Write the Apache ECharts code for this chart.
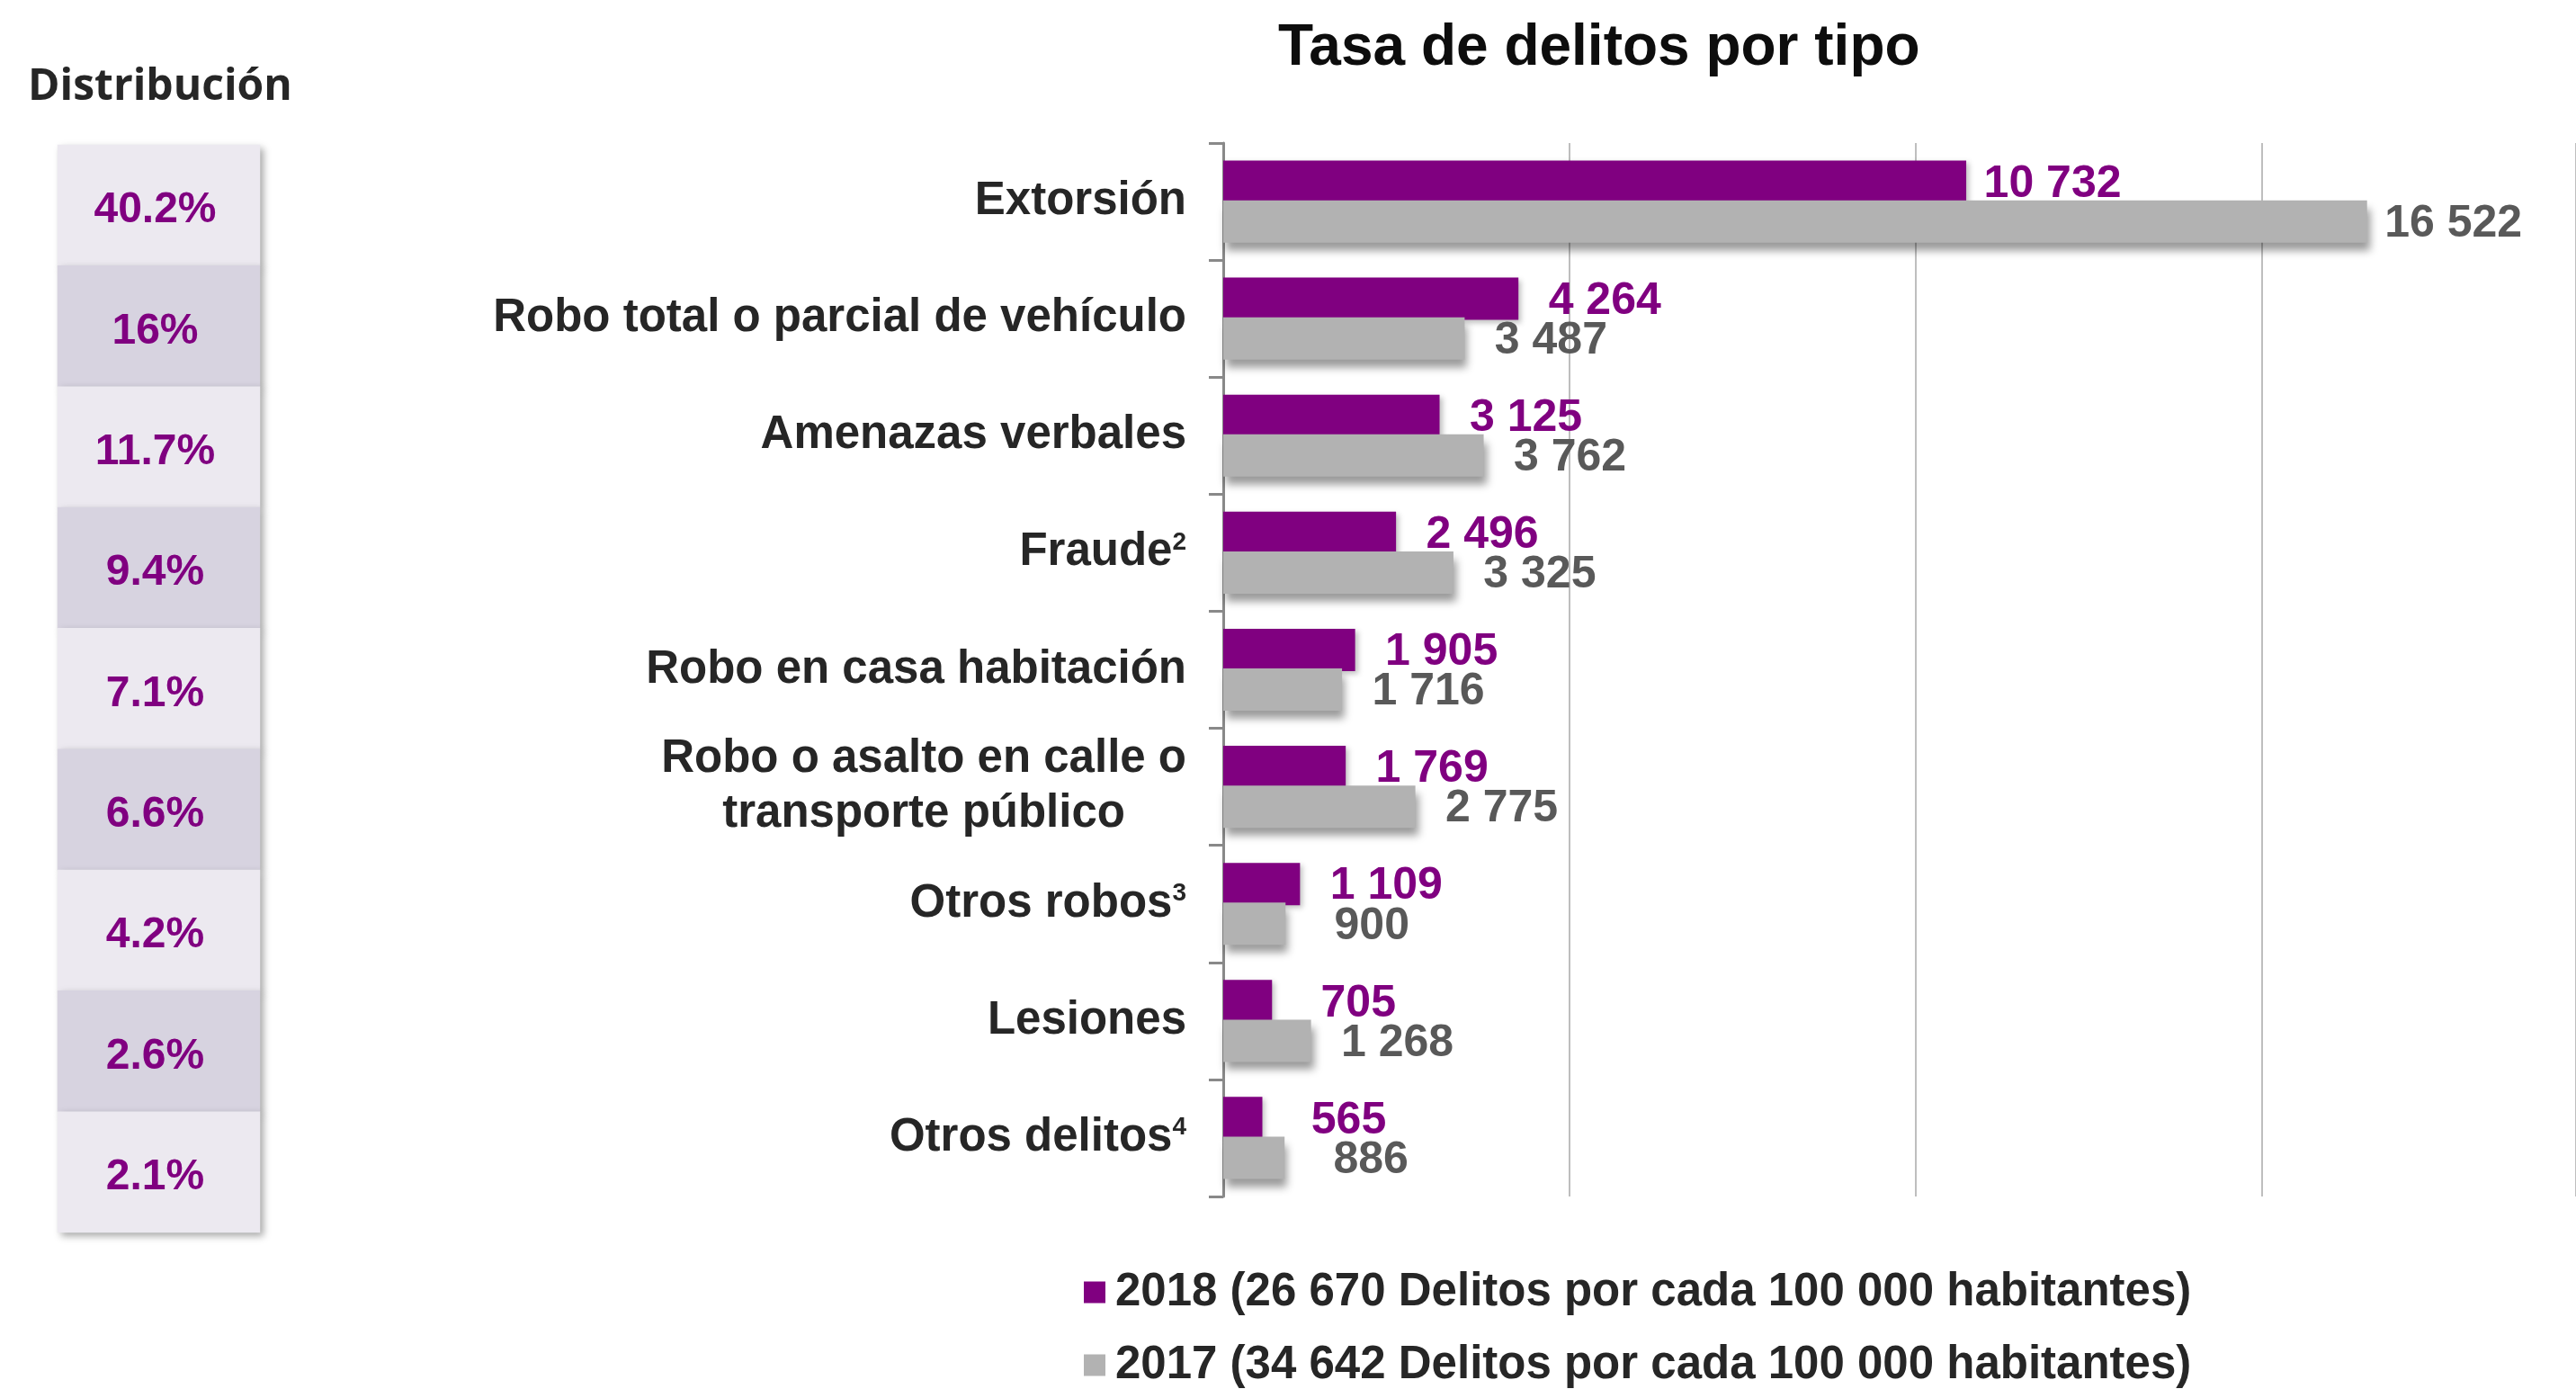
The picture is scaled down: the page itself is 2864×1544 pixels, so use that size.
<!DOCTYPE html>
<html>
<head>
<meta charset="utf-8">
<script src="https://cdn.jsdelivr.net/npm/echarts@6/dist/echarts.min.js"></script>
<style>
html,body{margin:0;padding:0;background:#fff;}
#c{width:2864px;height:1544px;}
</style>
</head>
<body>
<div id="c"></div>
<script>
// ---- data ----
var categories = ['Extorsión', 'Robo total o parcial de vehículo', 'Amenazas verbales', 'Fraude²',
  'Robo en casa habitación', 'Robo o asalto en calle o\ntransporte público', 'Otros robos³', 'Lesiones', 'Otros delitos⁴'];
var values2018 = [10732, 4264, 3125, 2496, 1905, 1769, 1109, 705, 565];
var values2017 = [16522, 3487, 3762, 3325, 1716, 2775, 900, 1268, 886];
var distribution = [40.2, 16, 11.7, 9.4, 7.1, 6.6, 4.2, 2.6, 2.1];
var seriesNames = ['2018 (26 670 Delitos por cada 100 000 habitantes)', '2017 (34 642 Delitos por cada 100 000 habitantes)'];
var titleText = 'Tasa de delitos por tipo';
var distTitle = 'Distribución';
var xTicks = {min: 0, max: 19540, interval: 5000};

// ---- helpers ----
var FONT = "'Liberation Sans', Arial, sans-serif";
function fmt(v) { return String(v).replace(/\B(?=(\d{3})+(?!\d))/g, ' '); }
var supMap = {'²': '2', '³': '3', '⁴': '4'};

var chart = echarts.init(document.getElementById('c'), null, {renderer: 'canvas'});

var option = {
  backgroundColor: '#ffffff',
  animation: false,
  title: [
    {text: titleText, left: 1421, top: 22, padding: 0,
     textStyle: {fontFamily: FONT, fontSize: 64, fontWeight: 'bold', color: '#0d0d0d'}},
    {text: distTitle, left: 31, top: 73, padding: 0,
     textStyle: {fontFamily: "'Open Sans', sans-serif", fontSize: 48, fontWeight: 'bold', color: '#262626'}}
  ],
  legend: {
    data: seriesNames,
    orient: 'vertical',
    left: 1205,
    top: 1411,
    padding: 0,
    itemWidth: 24,
    itemHeight: 24,
    itemGap: 30,
    icon: 'rect',
    textStyle: {fontFamily: FONT, fontSize: 51, fontWeight: 'bold', color: '#262626', padding: [0, 0, 0, 6]}
  },
  grid: [
    {left: 1360, top: 159, right: 0, height: 1171},
    {left: 64, top: 161, width: 225, height: 1209}
  ],
  xAxis: [
    {type: 'value', gridIndex: 0, min: xTicks.min, max: xTicks.max, interval: xTicks.interval,
     axisLabel: {show: false}, axisLine: {show: false}, axisTick: {show: false},
     splitLine: {show: true, lineStyle: {color: '#BEBEBE', width: 2}}},
    {type: 'category', gridIndex: 1, data: ['d'], show: false}
  ],
  yAxis: [
    {type: 'category', gridIndex: 0, data: categories, inverse: true,
     axisLine: {show: true, lineStyle: {color: '#898989', width: 3}},
     axisTick: {show: true, length: 16, lineStyle: {color: '#898989', width: 3}},
     splitLine: {show: false},
     axisLabel: {
       margin: 41,
       formatter: function (val) {
         if (val.indexOf('\n') >= 0) {
           return val.split('\n').map(function (l) { return '{c|' + l + '}'; }).join('\n');
         }
         var last = val.charAt(val.length - 1);
         if (supMap[last]) {
           return '{n|' + val.slice(0, -1) + '}{s|' + supMap[last] + '}';
         }
         return '{n|' + val + '}';
       },
       rich: {
         n: {fontFamily: FONT, fontSize: 51, fontWeight: 'bold', color: '#262626', lineHeight: 51},
         c: {fontFamily: FONT, fontSize: 51, fontWeight: 'bold', color: '#262626', lineHeight: 61, align: 'center'},
         s: {fontFamily: FONT, fontSize: 28, fontWeight: 'bold', color: '#262626', lineHeight: 36, verticalAlign: 'top'}
       }
     }},
    {type: 'category', gridIndex: 1, data: categories, inverse: true, show: false}
  ],
  series: [
    {
      name: seriesNames[0], type: 'bar', xAxisIndex: 0, yAxisIndex: 0,
      data: values2018, barWidth: 47, barGap: '-6%',
      itemStyle: {color: '#800080', shadowColor: 'rgba(0,0,0,0.25)', shadowBlur: 6, shadowOffsetX: 3, shadowOffsetY: 3},
      label: {
        show: true, position: 'right', distance: 21, offset: [0, 3],
        formatter: function (p) { return '{v|' + fmt(p.value) + '}'; },
        rich: {v: {width: 150, align: 'center', fontFamily: FONT, fontSize: 50, fontWeight: 'bold', color: '#800080'}}
      },
      emphasis: {disabled: true}
    },
    {
      name: seriesNames[1], type: 'bar', xAxisIndex: 0, yAxisIndex: 0,
      data: values2017, barWidth: 47, barGap: '-6%',
      itemStyle: {color: '#B2B2B2', shadowColor: 'rgba(0,0,0,0.4)', shadowBlur: 9, shadowOffsetX: 3, shadowOffsetY: 9},
      label: {
        show: true, position: 'right', distance: 21, offset: [0, 3],
        formatter: function (p) { return '{v|' + fmt(p.value) + '}'; },
        rich: {v: {width: 150, align: 'center', fontFamily: FONT, fontSize: 50, fontWeight: 'bold', color: '#595959'}}
      },
      emphasis: {disabled: true}
    },
    {
      type: 'heatmap', xAxisIndex: 1, yAxisIndex: 1,
      data: distribution.map(function (v, i) { return [0, i, v]; }),
      itemStyle: {
        color: function (p) { return p.dataIndex % 2 ? '#D7D3E0' : '#ECE9F0'; },
        shadowColor: 'rgba(0,0,0,0.35)', shadowBlur: 8, shadowOffsetX: 4, shadowOffsetY: 4
      },
      label: {
        show: true, offset: [-4, 6],
        formatter: function (p) { return p.value[2] + '%'; },
        fontFamily: FONT, fontSize: 48, fontWeight: 'bold', color: '#800080'
      },
      emphasis: {disabled: true}
    }
  ]
};
chart.setOption(option);
</script>
</body>
</html>
